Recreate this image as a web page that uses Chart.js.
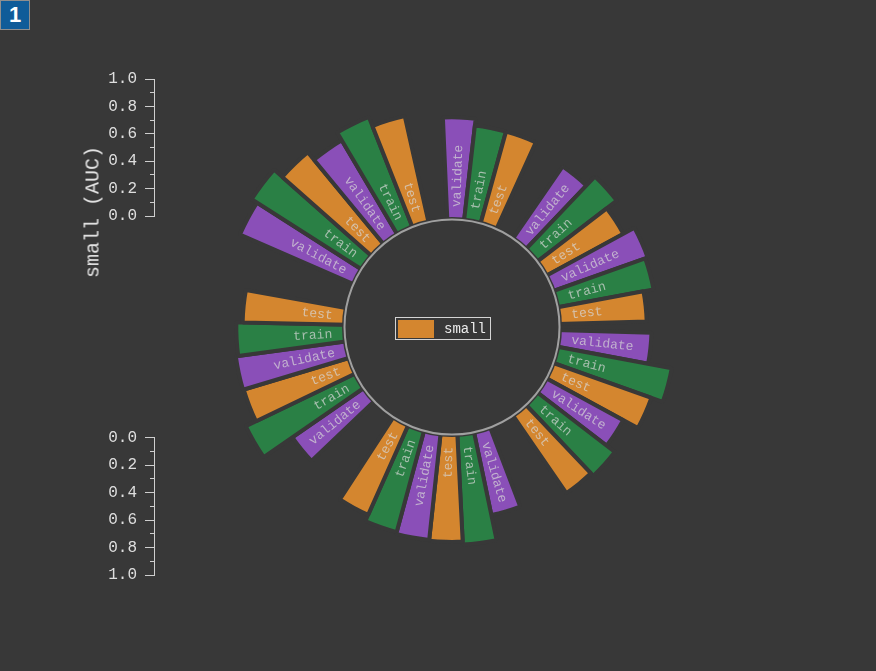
<!DOCTYPE html>
<html>
<head>
<meta charset="utf-8">
<script src="https://cdn.jsdelivr.net/npm/chart.js@4.4.1/dist/chart.umd.min.js"></script>
<style>
  html, body { margin: 0; padding: 0; background: #383838; width: 876px; height: 671px; overflow: hidden; }
  .abs { position: absolute; }
  #badge { left: 0; top: 0; width: 28px; height: 28px; background: #0f5c99; border: 1px solid #8e8e8e;
           color: #fff; font: bold 22px 'Liberation Sans', Arial, sans-serif; text-align: center; line-height: 28px; }
  #title { left: 93px; top: 212px; transform: translate(-50%, -50%) rotate(-90deg); white-space: nowrap;
           font: 20px 'Liberation Mono', monospace; color: #e2e2e2; }
  #legend { left: 395px; top: 317px; width: 94px; height: 21px; border: 1px solid #d4d4d4; }
  #legend .sw { position: absolute; left: 2px; top: 2px; width: 36px; height: 18px; background: #d4862f; }
  #legend .tx { position: absolute; left: 48px; top: 1px; font: 14px 'Liberation Mono', monospace; color: #ececec; line-height: 20px; }
</style>
</head>
<body>
<div id="badge" class="abs">1</div>
<div class="abs" style="left:40px;top:60px;width:125px;height:175px;"><canvas id="axisTop"></canvas></div>
<div class="abs" style="left:40px;top:420px;width:125px;height:175px;"><canvas id="axisBottom"></canvas></div>
<div id="title" class="abs"></div>
<div class="abs" style="left:204px;top:79px;width:496px;height:496px;"><canvas id="polar"></canvas></div>
<div id="legend" class="abs"><div class="sw"></div><div class="tx"></div></div>
<script>
// ---------------- data ----------------
const seriesName = 'small';
const axisTitle = 'small (AUC)';
const splits = ['validate', 'train', 'test'];
// AUC per model group, clockwise from the top
const validateAUC = [0.713, 0.606, 0.698, 0.639, 0.605, 0.585, 0.746, 0.599, 0.775, 0.871, 0.765];
const trainAUC    = [0.662, 0.698, 0.679, 0.815, 0.681, 0.772, 0.733, 0.853, 0.757, 0.917, 0.831];
const testAUC     = [0.662, 0.606, 0.604, 0.727, 0.655, 0.751, 0.684, 0.770, 0.711, 0.836, 0.760];
const axisTickLabels = ['0.0', '0.2', '0.4', '0.6', '0.8', '1.0'];

// ---------------- layout / style ----------------
const BG = '#383838';
const COLORS = { validate: '#8a4fb8', train: '#2a8045', test: '#d4862f' };
const BAR_DEG = 8.97;                 // angular slot of one bar
const GAP_AFTER = { 0: 10.15, 2: 3.25, 4: 13.75, 6: 13.35, 8: 13.35, 10: 10.15 }; // extra gaps after groups
const START_DEG = -2.49;
const R_MIN = -0.81752, R_MAX = 0.99270; // radial scale range (inner hole + bar lengths)
const RING_VALUE = -0.03285;
const BORDER = 4;

const seriesBySplit = { validate: validateAUC, train: trainAUC, test: testAUC };
const slots = [];
for (let g = 0; g < validateAUC.length; g++) {
  splits.forEach(s => slots.push({ split: s, value: seriesBySplit[s][g], deg: BAR_DEG }));
  if (GAP_AFTER[g]) slots.push({ split: null, value: null, deg: GAP_AFTER[g] });
}

document.getElementById('title').textContent = axisTitle;
document.querySelector('#legend .tx').textContent = seriesName;

// ---------------- radial chart ----------------
const hubAndLabels = {
  id: 'hubAndLabels',
  afterDatasetsDraw(chart) {
    const s = chart.scales.r;
    const ctx = chart.ctx;
    const base = s.getDistanceFromCenterForValue(0) - BORDER / 2;
    ctx.save();
    ctx.beginPath();
    ctx.arc(s.xCenter, s.yCenter, base, 0, Math.PI * 2);
    ctx.fillStyle = BG;
    ctx.fill();
    ctx.font = "13px 'Liberation Mono', monospace";
    ctx.fillStyle = 'rgba(215,215,215,0.72)';
    ctx.textBaseline = 'middle';
    const meta = chart.getDatasetMeta(0);
    const rText = base + 10;
    meta.data.forEach((arc, i) => {
      const slot = slots[i];
      if (slot.value == null) return;
      const mid = (arc.startAngle + arc.endAngle) / 2;
      ctx.save();
      ctx.translate(s.xCenter, s.yCenter);
      if (Math.cos(mid) >= 0) {
        ctx.rotate(mid);
        ctx.textAlign = 'left';
        ctx.fillText(slot.split, rText, 0.5);
      } else {
        ctx.rotate(mid + Math.PI);
        ctx.textAlign = 'right';
        ctx.fillText(slot.split, -rText, 0.5);
      }
      ctx.restore();
    });
    ctx.restore();
  }
};

new Chart(document.getElementById('polar'), {
  type: 'polarArea',
  data: {
    labels: slots.map(s => s.split || ''),
    datasets: [{
      label: seriesName,
      data: slots.map(s => s.value),
      backgroundColor: c => COLORS[slots[c.dataIndex].split] || 'rgba(0,0,0,0)',
      borderColor: BG,
      borderWidth: BORDER,
      angle: c => slots[c.dataIndex].deg
    }]
  },
  options: {
    responsive: true,
    maintainAspectRatio: false,
    animation: false,
    layout: { padding: 0 },
    plugins: { legend: { display: false }, tooltip: { enabled: false } },
    scales: {
      r: {
        min: R_MIN,
        max: R_MAX,
        startAngle: START_DEG,
        ticks: { display: false },
        afterBuildTicks: sc => { sc.ticks = [{ value: RING_VALUE }]; },
        grid: { circular: true, color: '#a0a0a0', lineWidth: 2, z: 1 },
        angleLines: { display: false },
        pointLabels: { display: false }
      }
    }
  },
  plugins: [hubAndLabels]
});

// ---------------- left value axes ----------------
function labelFor(v) {
  const hit = axisTickLabels.find(l => Math.abs(parseFloat(l) - v) < 1e-6);
  return hit || '';
}
function makeAxis(id, reverse, padTop, padBottom) {
  return new Chart(document.getElementById(id), {
    type: 'line',
    data: { labels: [], datasets: [] },
    options: {
      responsive: true,
      maintainAspectRatio: false,
      animation: false,
      layout: { padding: { left: 14, right: 5, top: padTop, bottom: padBottom } },
      plugins: { legend: { display: false }, tooltip: { enabled: false } },
      scales: {
        x: { display: false },
        y: {
          type: 'linear',
          position: 'left',
          min: 0, max: 1, reverse: reverse,
          afterFit: sc => { sc.width = 100; },
          ticks: {
            stepSize: 0.1,
            autoSkip: false,
            padding: 8,
            color: '#dedede',
            font: { family: "'Liberation Mono', monospace", size: 16 },
            callback: v => labelFor(v)
          },
          grid: {
            drawOnChartArea: false,
            drawTicks: true,
            tickLength: 9,
            tickWidth: 1,
            tickColor: '#cfcfcf',
            tickBorderDash: c => (labelFor(c.tick.value) ? [] : [0, 5, 4, 20])
          },
          border: { display: true, color: '#cfcfcf', width: 1 }
        }
      }
    }
  });
}
makeAxis('axisTop', false, 19, 19);
makeAxis('axisBottom', true, 17, 20);
</script>
</body>
</html>
